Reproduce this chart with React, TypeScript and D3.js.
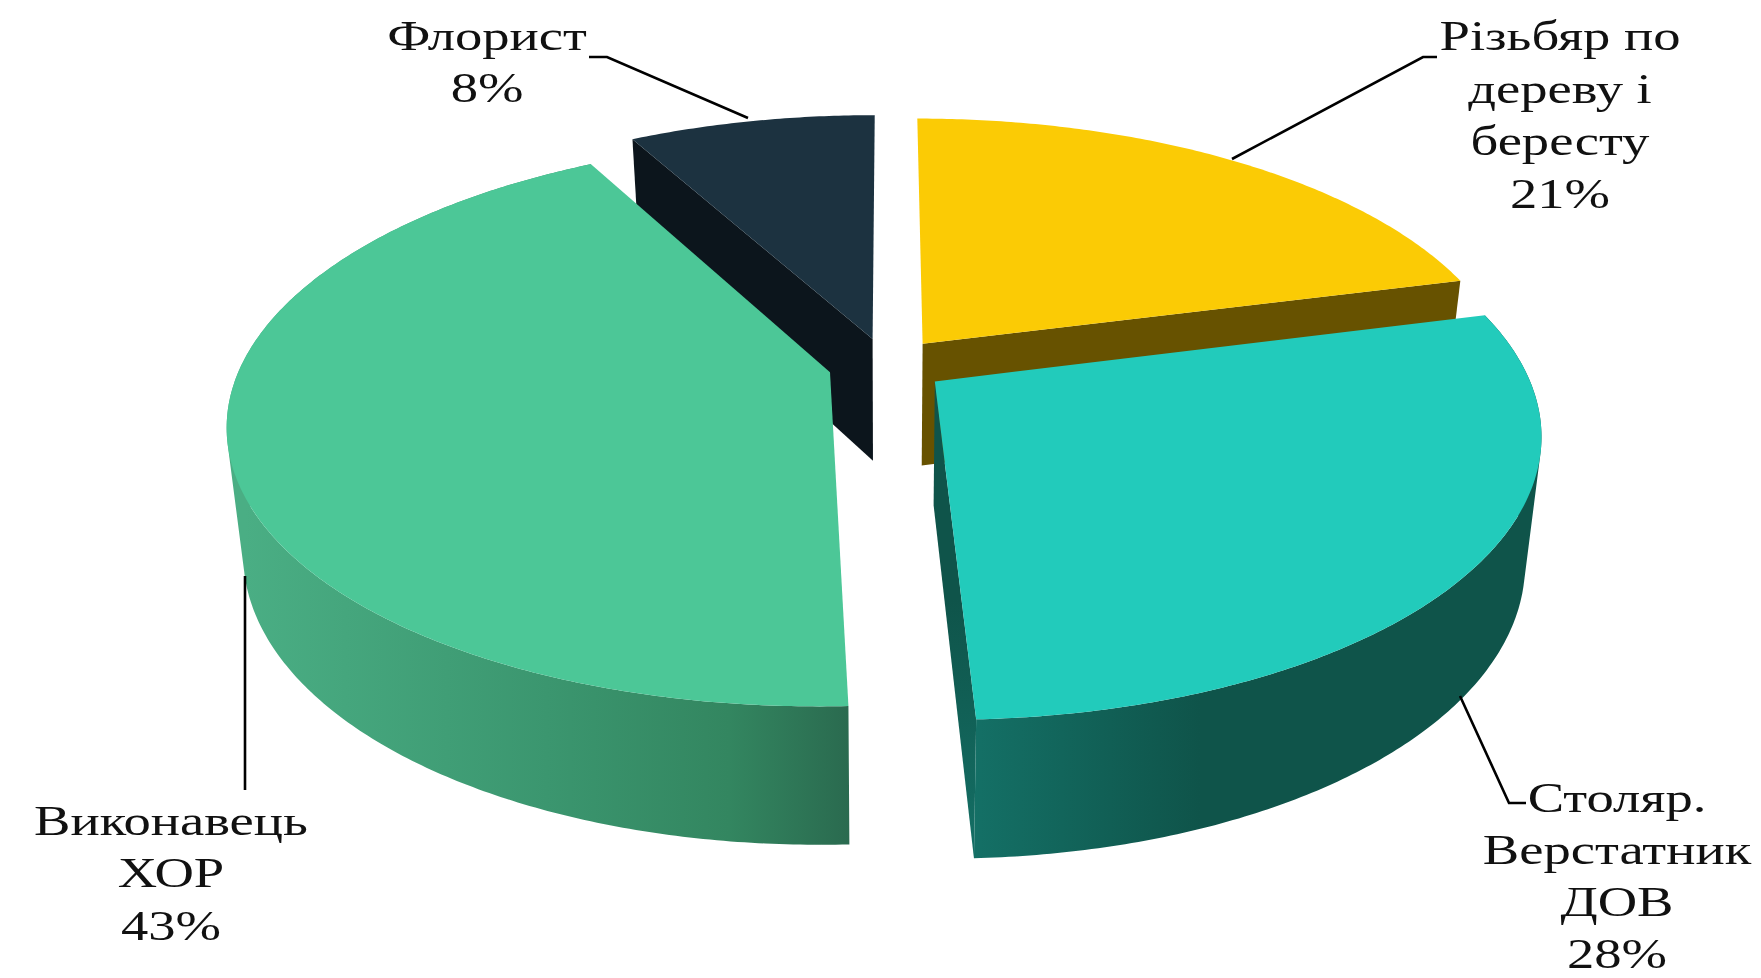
import React from "react";
import * as d3 from "d3";

// Data
const categories = ["Різьбяр по дереву і бересту", "Столяр. Верстатник ДОВ", "Виконавець ХОР", "Флорист"];
const shares = [21, 28.32, 42.68, 8];
const labelLines = [
  ["Різьбяр по", "дереву і", "бересту", "21%"],
  ["Столяр.", "Верстатник", "ДОВ", "28%"],
  ["Виконавець", "ХОР", "43%"],
  ["Флорист", "8%"],
];
const topColors = ["#fbcb05", "#22cbbb", "#4cc797", "#1c3240"];
const faceColors = ["#675200", "#0f544a", "#2b6c50", "#0c151c"];

// Layout of the perspective projection
const W = 1761, H = 978;
const cx = 887, cy = 365, rx = 589, ry = 272;
const perspective = 0.177, explode = 0.1;
const depthMid = 123, depthSlope = 15, baseShrink = 0.975;
const textScaleX = 1.27;

const labelAnchors = [
  { x: 1560, y: [50, 103, 155, 208] },
  { x: 1617, y: [812, 864, 916, 968] },
  { x: 171, y: [835, 887, 940] },
  { x: 487, y: [50, 102] },
];
const leaders = [
  [[1437, 57], [1423, 57], [1232, 159]],
  [[1526, 803], [1509, 803], [1460, 696]],
  [[245, 790], [245, 576]],
  [[589, 57], [607, 57], [748, 118]],
];

const arcs = d3.pie<number>().sort(null).startAngle(0).endAngle(2 * Math.PI)(shares);
const line = d3.line();

function projector(mid: number) {
  const ou = explode * Math.sin(mid), ov = -explode * Math.cos(mid);
  const top = (u: number, v: number): [number, number] => {
    const U = u + ou, V = v + ov, w = 1 - perspective * V;
    return [cx + (rx * U) / w, cy + (ry * V) / w];
  };
  const bottom = (u: number, v: number): [number, number] => {
    const [x, y] = top(u, v);
    return [cx + (x - cx) * baseShrink, y + depthMid + depthSlope * (v + ov)];
  };
  return { top, bottom };
}

const angles = (a: number, b: number) => [...d3.range(a, b, 0.01), b];
const rim = (a: number) => [Math.sin(a), -Math.cos(a)] as [number, number];

function Slice({ i }: { i: number }) {
  const d = arcs[i];
  const p = projector((d.startAngle + d.endAngle) / 2);
  const ts = angles(d.startAngle, d.endAngle);
  const topRim = ts.map((t) => p.top(...rim(t)));
  const botRim = ts.map((t) => p.bottom(...rim(t)));
  const topFace = line([p.top(0, 0), ...topRim]) + "Z";
  // The wall is one path of small quads, all wound the same way, so that none of them cancels another.
  const wall = d3
    .range(ts.length - 1)
    .map((k) => {
      const quad = [topRim[k], topRim[k + 1], botRim[k + 1], botRim[k]] as [number, number][];
      return line(d3.polygonArea(quad) > 0 ? quad : quad.reverse()) + "Z";
    })
    .join("");
  const startFace = line([p.top(0, 0), p.top(...rim(d.startAngle)), p.bottom(...rim(d.startAngle)), p.bottom(0, 0)]) + "Z";
  const endFace = line([p.top(0, 0), p.top(...rim(d.endAngle)), p.bottom(...rim(d.endAngle)), p.bottom(0, 0)]) + "Z";
  return (
    <g>
      {i === 0 && <path d={endFace} fill={faceColors[0]} />}
      {i === 3 && <path d={startFace} fill={faceColors[3]} />}
      {i === 1 && <path d={endFace} fill="url(#tealSide)" />}
      {i === 1 && <path d={wall} fill="url(#tealWall)" />}
      {i === 2 && <path d={wall} fill="url(#greenWall)" />}
      <path d={topFace} fill={topColors[i]} />
    </g>
  );
}

export default function App() {
  return (
    <svg width={W} height={H} viewBox={`0 0 ${W} ${H}`} style={{ position: "absolute", left: 0, top: 0, background: "#fff" }}>
      <title>{categories.join(", ")}</title>
      <defs>
        <linearGradient id="greenWall" gradientUnits="userSpaceOnUse" x1={245} x2={850} y1={0} y2={0}>
          <stop offset="0" stopColor="#4aae84" />
          <stop offset="0.5" stopColor="#3b966f" />
          <stop offset="0.8" stopColor="#338660" />
          <stop offset="1" stopColor="#2a6a4f" />
        </linearGradient>
        <linearGradient id="tealWall" gradientUnits="userSpaceOnUse" x1={972} x2={1200} y1={0} y2={0}>
          <stop offset="0" stopColor="#147066" />
          <stop offset="1" stopColor="#0f544a" />
        </linearGradient>
        <linearGradient id="tealSide" gradientUnits="userSpaceOnUse" x1={0} x2={0} y1={600} y2={860}>
          <stop offset="0" stopColor="#0f544a" />
          <stop offset="1" stopColor="#147066" />
        </linearGradient>
      </defs>
      {[0, 3, 2, 1].map((i) => (
        <Slice key={i} i={i} />
      ))}
      {leaders.map((pts, i) => (
        <path key={i} d={line(pts as [number, number][]) as string} fill="none" stroke="#000" strokeWidth={2.6} />
      ))}
      <g fontFamily="'Liberation Serif', serif" fontSize={43} fill="#111">
        {labelLines.map((ls, i) =>
          ls.map((t, j) => (
            <text
              key={j}
              textAnchor="middle"
              transform={`translate(${labelAnchors[i].x},${labelAnchors[i].y[j]}) scale(${textScaleX},1)`}
            >
              {t}
            </text>
          ))
        )}
      </g>
    </svg>
  );
}
